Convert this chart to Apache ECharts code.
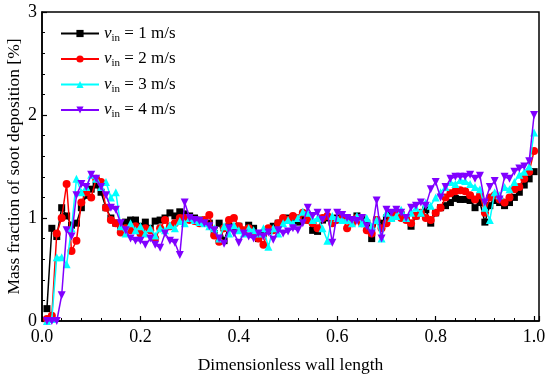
<!DOCTYPE html>
<html>
<head>
<meta charset="utf-8">
<script src="https://cdn.jsdelivr.net/npm/echarts@6/dist/echarts.min.js"></script>
<style>html,body{margin:0;padding:0;background:#fff;}#c{width:550px;height:377px;}</style>
</head>
<body>
<div id="c"></div>
<script>
// x positions: 0.01 ... 1.00
var xs = [];
for (var i = 1; i <= 100; i++) xs.push(+(i / 100).toFixed(2));

var speeds = ['1', '2', '3', '4'];

var v1 = [0.12,0.90,0.82,1.10,1.02,0.93,0.95,1.10,1.22,1.28,
          1.32,1.25,1.10,1.00,0.95,0.88,0.96,0.98,0.98,0.92,
          0.96,0.90,0.97,0.98,1.00,1.05,1.02,1.06,1.04,1.02,
          1.00,0.98,0.97,0.95,0.85,0.95,0.78,0.92,0.90,0.92,
          0.88,0.93,0.90,0.80,0.85,0.88,0.92,0.95,0.98,1.00,
          0.98,0.96,1.00,0.98,0.88,0.87,0.98,1.00,0.96,1.00,
          1.00,1.00,0.98,1.02,1.00,0.95,0.80,0.98,0.95,1.00,
          1.05,1.05,1.03,1.00,0.92,1.02,1.05,1.08,0.95,1.05,
          1.10,1.12,1.15,1.19,1.18,1.18,1.17,1.10,1.15,0.96,
          1.12,1.17,1.15,1.12,1.15,1.20,1.25,1.32,1.38,1.45];

var v2 = [0.02,0.05,0.85,1.00,1.33,0.68,0.78,1.15,1.25,1.20,
          1.38,1.35,1.10,0.98,0.95,0.86,0.90,0.88,0.92,0.85,
          0.90,0.88,0.80,0.90,0.98,0.92,0.95,1.00,1.00,0.98,
          0.97,0.95,0.98,1.03,0.83,0.77,0.90,0.98,1.00,0.92,
          0.88,0.90,0.85,0.80,0.74,0.90,0.88,0.95,1.00,0.98,
          1.02,1.00,1.05,0.98,0.95,0.90,1.00,1.02,0.95,0.98,
          1.00,0.90,0.95,1.00,0.95,0.88,0.85,0.98,0.90,0.95,
          1.00,1.05,1.00,0.98,0.95,1.02,1.05,1.00,0.98,1.05,
          1.10,1.20,1.24,1.26,1.27,1.26,1.22,1.18,1.22,1.05,
          1.20,1.22,1.18,1.15,1.20,1.28,1.30,1.38,1.45,1.65];

var v3 = [0.00,0.02,0.62,0.62,0.55,0.90,1.38,1.25,1.30,1.42,
          1.38,1.30,1.35,1.20,1.25,0.92,0.85,0.95,0.88,0.92,
          0.85,0.90,0.83,0.90,0.88,0.93,0.90,0.97,0.95,1.00,
          0.98,0.96,0.95,0.92,0.90,0.80,0.92,0.85,0.93,0.88,
          0.85,0.90,0.88,0.85,0.90,0.72,0.90,0.85,0.95,0.98,
          0.95,1.00,1.06,1.05,0.98,1.00,0.90,0.78,1.02,1.00,
          0.98,0.98,0.95,1.02,0.95,1.00,0.92,0.98,0.80,1.05,
          1.00,1.02,1.08,1.00,1.05,1.10,1.05,1.15,1.12,1.20,
          1.25,1.30,1.35,1.33,1.37,1.36,1.33,1.30,1.28,1.10,
          0.98,1.25,1.22,1.30,1.28,1.35,1.42,1.45,1.50,1.83];

var v4 = [0.00,0.00,0.00,0.25,0.88,0.82,1.22,1.33,1.30,1.42,
          1.38,1.30,1.22,1.10,1.08,0.95,0.88,0.80,0.78,0.78,
          0.74,0.80,0.74,0.71,0.85,0.78,0.76,0.64,1.15,1.00,
          0.98,0.97,0.95,0.92,0.88,0.80,0.75,0.90,0.85,0.76,
          0.85,0.82,0.80,0.85,0.82,0.86,0.79,0.88,0.85,0.87,
          0.90,0.88,0.95,1.10,1.02,1.05,0.98,1.05,0.76,1.05,
          1.03,1.00,0.98,0.97,1.00,0.92,0.85,1.17,0.80,1.08,
          1.05,1.08,1.05,1.00,1.10,1.12,1.15,1.12,1.28,1.35,
          1.20,1.30,1.38,1.40,1.40,1.40,1.42,1.38,1.41,1.15,
          1.30,1.36,1.18,1.40,1.38,1.45,1.48,1.50,1.55,2.00];

var xTickLabels = ['0.0','0.2','0.4','0.6','0.8','1.0'];
var yTickLabels = ['0','1','2','3'];

function pairs(arr) { return arr.map(function (v, i) { return [xs[i], v]; }); }

var FONT = '"Liberation Serif", "Times New Roman", serif';
var colors = ['#000000', '#ff0000', '#00ffff', '#8000ff'];
var symbols = ['rect', 'circle', 'triangle', 'triangle'];
var rotates = [0, 0, 0, 180];
var sizes = [7, 8, 8, 8];
var dataSets = [v1, v2, v3, v4];

var series = dataSets.map(function (d, k) {
  return {
    name: 'v' + speeds[k],
    type: 'line',
    data: pairs(d),
    symbol: symbols[k],
    symbolSize: sizes[k],
    symbolRotate: rotates[k],
    showAllSymbol: true,
    lineStyle: { color: colors[k], width: 1.5 },
    itemStyle: { color: colors[k] },
    animation: false,
    z: 2 + k
  };
});

var chart = echarts.init(document.getElementById('c'), null, { renderer: 'canvas' });
chart.setOption({
  backgroundColor: '#fff',
  animation: false,
  grid: { left: 42, right: 11, top: 12, bottom: 56, containLabel: false, outerBoundsMode: 'none',
          show: true, borderColor: '#000', borderWidth: 1.5, backgroundColor: 'transparent' },
  legend: {
    left: 55, top: 20, orient: 'vertical', itemGap: 7, itemWidth: 38, itemHeight: 9,
    data: series.map(function (s) { return s.name; }),
    formatter: function (name) {
      var idx = +name.slice(1) - 1;
      return '{i|v}{s|in}{t| = ' + speeds[idx] + ' m/s}';
    },
    textStyle: {
      fontFamily: FONT, fontSize: 16, color: '#000',
      rich: {
        i: { fontFamily: FONT, fontSize: 17, fontStyle: 'italic', color: '#000' },
        s: { fontFamily: FONT, fontSize: 11, color: '#000', padding: [9, 0, 0, 0] },
        t: { fontFamily: FONT, fontSize: 17, color: '#000' }
      }
    }
  },
  xAxis: {
    type: 'value', min: 0, max: 1.01, interval: 0.2,
    name: 'Dimensionless wall length', nameLocation: 'middle', nameGap: 35, nameMoveOverlap: false,
    nameTextStyle: { fontFamily: FONT, fontSize: 17.5, color: '#000' },
    axisLine: { show: true, lineStyle: { color: '#000', width: 1.5 } },
    axisTick: { show: true, inside: true, length: 5, lineStyle: { color: '#000', width: 1.2 } },
    minorTick: { show: true, splitNumber: 5, length: 3, lineStyle: { color: '#000', width: 1 } },
    splitLine: { show: false },
    axisLabel: {
      fontFamily: FONT, fontSize: 18, color: '#000', margin: 7,
      showMaxLabel: false,
      formatter: function (v) {
        var k = Math.round(v / 0.2);
        if (Math.abs(v - k * 0.2) > 1e-6) return '';
        return xTickLabels[k] || '';
      }
    }
  },
  yAxis: {
    type: 'value', min: 0, max: 3, interval: 1,
    name: 'Mass fraction of soot deposition [%]', nameLocation: 'middle', nameGap: 19, nameMoveOverlap: false,
    nameTextStyle: { fontFamily: FONT, fontSize: 17.5, color: '#000' },
    axisLine: { show: true, lineStyle: { color: '#000', width: 1.5 } },
    axisTick: { show: true, inside: true, length: 5, lineStyle: { color: '#000', width: 1.2 } },
    minorTick: { show: true, splitNumber: 5, length: 3, lineStyle: { color: '#000', width: 1 } },
    splitLine: { show: false },
    axisLabel: {
      fontFamily: FONT, fontSize: 18, color: '#000', margin: 5,
      formatter: function (v) { return yTickLabels[Math.round(v)]; }
    }
  },
  series: series
});
</script>
</body>
</html>
